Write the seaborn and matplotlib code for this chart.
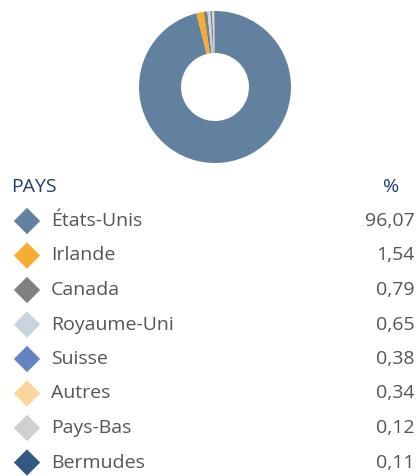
import matplotlib
matplotlib.use("Agg")
import matplotlib.pyplot as plt
import seaborn as sns
import pandas as pd

countries = ["États-Unis", "Irlande", "Canada", "Royaume-Uni", "Suisse",
             "Autres", "Pays-Bas", "Bermudes"]
weights = [96.07, 1.54, 0.79, 0.65, 0.38, 0.34, 0.12, 0.11]
colors = ["#62819e", "#f5ae32", "#808080", "#c8d4de", "#6583c4",
          "#f9d699", "#d0d0d2", "#34587f"]
header_labels = ["PAYS", "%"]

sns.set_theme(style="white")
plt.rcParams["font.family"] = ["Open Sans", "DejaVu Sans"]

W, H = 417, 476
fig = plt.figure(figsize=(W / 100, H / 100), dpi=100)

# Donut chart
cx, cy, r = 215, 87, 76
ax_pie = fig.add_axes([(cx - r) / W, (H - cy - r) / H, 2 * r / W, 2 * r / H])
ax_pie.pie(weights, colors=colors, startangle=90, counterclock=False,
           radius=1.0, wedgeprops=dict(width=1 - 34 / 76, linewidth=0))
ax_pie.set_xlim(-1, 1)
ax_pie.set_ylim(-1, 1)
ax_pie.set_aspect("equal")
ax_pie.axis("off")

# Table legend below the donut, one row per country
ax_tab = fig.add_axes([0, 0, 1, (H - 170) / H])
ax_tab.set_xlim(0, W)
ax_tab.set_ylim(H, 170)
ax_tab.axis("off")

row0, step = 221, 34.5
df = pd.DataFrame({"pays": countries, "poids": weights})
df["row"] = [row0 + i * step for i in range(len(df))]
df["x"] = 27

sns.scatterplot(data=df, x="x", y="row", hue="pays", palette=colors,
                marker="D", s=180, linewidth=0, legend=False, ax=ax_tab)

header_color = "#1f3f6e"
text_color = "#555555"
fs = 14
ax_tab.text(11, 187, header_labels[0], color=header_color, fontsize=fs,
            va="center", ha="left")
ax_tab.text(391, 187, header_labels[1], color=header_color, fontsize=fs,
            va="center", ha="center")
for _, row in df.iterrows():
    ax_tab.text(51, row["row"], row["pays"], color=text_color, fontsize=fs,
                va="center", ha="left")
    ax_tab.text(415, row["row"], f"{row['poids']:.2f}".replace(".", ","),
                color=text_color, fontsize=fs, va="center", ha="right")

fig.savefig("out.png", dpi=100)
